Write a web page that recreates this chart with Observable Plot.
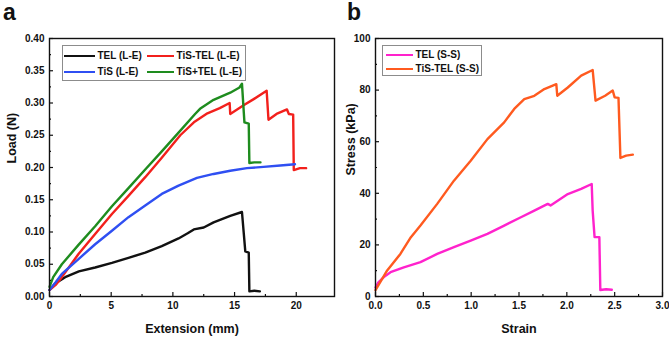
<!DOCTYPE html>
<html>
<head>
<meta charset="utf-8">
<script src="https://cdn.jsdelivr.net/npm/d3@7"></script>
<script src="https://cdn.jsdelivr.net/npm/@observablehq/plot@0.6"></script>
<style>
  html, body { margin: 0; padding: 0; background: #fff; }
  #wrap { position: relative; width: 669px; height: 338px; overflow: hidden; font-family: "Liberation Sans", Arial, sans-serif; font-weight: bold; color: #111; }
  .panel { position: absolute; top: 0; }
  .plabel { position: absolute; font-size: 23px; font-weight: bold; line-height: 1; }
  .legend { position: absolute; border: 1px solid #8c8c8c; background: #fff; box-sizing: border-box; }
  .sw { position: absolute; height: 2px; }
  .lt { position: absolute; font-size: 10px; line-height: 10px; white-space: nowrap; }
</style>
</head>
<body>
<div id="wrap"></div>
<script>
// ---------- Panel a: Load vs Extension ----------
const aNames = ["TEL (L-E)", "TiS-TEL (L-E)", "TiS (L-E)", "TiS+TEL (L-E)"];
const aColors = ["#111111", "#f2201c", "#2f4ff2", "#1e8c1e"];
const aXTicks = [0, 5, 10, 15, 20];
const aYTicks = [0, 0.05, 0.10, 0.15, 0.20, 0.25, 0.30, 0.35, 0.40];

const telLE = [[0,0.010],[0.46,0.020],[1.27,0.030],[2.38,0.039],[3.7,0.045],[5.06,0.052],[6.4,0.060],[7.76,0.068],[9.1,0.078],[10.46,0.090],[11.2,0.098],[11.7,0.104],[12.5,0.107],[13.3,0.115],[14.65,0.125],[15.6,0.131],[15.75,0.097],[15.87,0.070],[16.15,0.068],[16.2,0.008],[16.6,0.009],[17.05,0.008]];
const tisTelLE = [[0,0.010],[0.5,0.018],[1.0,0.030],[2.35,0.066],[3.7,0.097],[5.06,0.128],[6.4,0.156],[7.76,0.185],[9.1,0.215],[10.6,0.250],[11.7,0.270],[12.8,0.284],[13.8,0.292],[14.6,0.300],[14.65,0.283],[15.7,0.296],[16.55,0.306],[17.6,0.319],[17.75,0.274],[18.4,0.283],[19.25,0.290],[19.4,0.283],[19.75,0.282],[19.8,0.196],[20.3,0.199],[20.8,0.199]];
const tisLE = [[0,0.010],[0.5,0.022],[1.0,0.035],[2.35,0.058],[3.7,0.081],[5.06,0.102],[6.4,0.123],[7.76,0.141],[9.1,0.159],[10.46,0.172],[11.95,0.184],[13.3,0.190],[14.65,0.195],[16.0,0.199],[17.35,0.201],[18.7,0.203],[19.9,0.205]];
const tisPlusTelLE = [[0,0.015],[0.3,0.030],[1.0,0.050],[2.35,0.080],[3.7,0.109],[5.06,0.140],[6.4,0.168],[7.76,0.197],[9.1,0.225],[10.46,0.254],[11.8,0.283],[12.2,0.291],[13.3,0.305],[14.65,0.316],[15.4,0.324],[15.6,0.330],[15.8,0.270],[16.15,0.268],[16.2,0.207],[16.6,0.208],[17.1,0.208]];
const aSeries = [telLE, tisTelLE, tisLE, tisPlusTelLE];

// ---------- Panel b: Stress vs Strain ----------
const bNames = ["TEL (S-S)", "TiS-TEL (S-S)"];
const bColors = ["#ff22cc", "#ff5a1f"];
const bXTicks = [0, 0.5, 1.0, 1.5, 2.0, 2.5, 3.0];
const bYTicks = [0, 20, 40, 60, 80, 100];

const telSS = [[0,3.5],[0.03,5.5],[0.087,7.5],[0.157,9.4],[0.296,11.3],[0.47,13.3],[0.645,16.5],[0.82,19.1],[0.995,21.7],[1.17,24.3],[1.345,27.5],[1.52,30.7],[1.66,33.3],[1.8,35.9],[1.83,35.3],[2.01,39.7],[2.15,41.7],[2.26,43.6],[2.27,33.3],[2.29,23.0],[2.34,23.0],[2.35,2.5],[2.41,2.8],[2.47,2.6]];
const tisTelSS = [[0,2.5],[0.122,10.1],[0.26,16.5],[0.37,23.0],[0.47,27.5],[0.645,35.9],[0.82,44.9],[0.995,52.6],[1.17,61.0],[1.345,67.5],[1.45,72.7],[1.555,76.5],[1.66,77.8],[1.765,80.4],[1.89,82.3],[1.9,77.8],[2.01,81.0],[2.15,85.6],[2.27,87.8],[2.30,75.9],[2.40,77.8],[2.48,79.8],[2.50,77.2],[2.54,77.0],[2.56,53.7],[2.62,54.6],[2.69,55.0]];
const bSeries = [telSS, tisTelSS];

function minors(ticks) {
  const out = [];
  for (let i = 0; i < ticks.length - 1; i++) out.push((ticks[i] + ticks[i + 1]) / 2);
  return out;
}

function panel(cfg) {
  const data = cfg.series.flatMap((s, i) => s.map(([x, y]) => ({x, y, name: cfg.names[i]})));
  return Plot.plot({
    width: cfg.width, height: 338,
    marginTop: 38, marginBottom: 42, marginLeft: cfg.marginLeft, marginRight: cfg.marginRight,
    x: {domain: cfg.xDomain},
    y: {domain: cfg.yDomain},
    color: {domain: cfg.names, range: cfg.colors},
    style: {fontFamily: '"Liberation Sans", Arial, sans-serif', fontWeight: "bold", fontSize: "10px", color: "#111", background: "transparent", overflow: "visible"},
    marks: [
      Plot.line(data, {x: "x", y: "y", z: "name", stroke: "name", strokeWidth: 2.4}),
      Plot.frame({stroke: "#111", strokeWidth: 1.4}),
      Plot.axisX(cfg.xTicks, {tickSize: -4, tickPadding: 9.5, tickFormat: cfg.xFormat, label: null, fontSize: 10, fontWeight: "bold", strokeWidth: 1.2}),
      Plot.axisX(minors(cfg.xTicks), {tickSize: -2, text: null, label: null, strokeWidth: 1.2}),
      Plot.axisY(cfg.yTicks, {tickSize: -4, tickPadding: 9, tickFormat: cfg.yFormat, label: null, fontSize: 10, fontWeight: "bold", strokeWidth: 1.2}),
      Plot.axisY(minors(cfg.yTicks), {tickSize: -2, text: null, label: null, strokeWidth: 1.2}),
      Plot.text([cfg.xLabel], {frameAnchor: "bottom", dy: 32, lineAnchor: "middle", fontSize: 12.5, fontWeight: "bold"}),
      Plot.text([cfg.yLabel], {frameAnchor: "left", dx: cfg.yLabelDx, dy: cfg.yLabelDy, rotate: -90, lineAnchor: "middle", fontSize: 12.5, fontWeight: "bold"})
    ]
  });
}

const wrap = document.getElementById("wrap");

const pa = panel({
  series: aSeries, names: aNames, colors: aColors,
  width: 335, marginLeft: 49, marginRight: 1,
  xDomain: [0, 23.1], yDomain: [0, 0.40],
  xTicks: aXTicks, yTicks: aYTicks,
  xFormat: d3.format("d"), yFormat: d3.format(".2f"),
  xLabel: "Extension (mm)", yLabel: "Load (N)", yLabelDx: -37.5, yLabelDy: -4
});
pa.classList.add("panel"); pa.style.left = "0px";
wrap.appendChild(pa);

const pb = panel({
  series: bSeries, names: bNames, colors: bColors,
  width: 334, marginLeft: 40, marginRight: 7,
  xDomain: [0, 3.0], yDomain: [0, 100],
  xTicks: bXTicks, yTicks: bYTicks,
  xFormat: d3.format(".1f"), yFormat: d3.format("d"),
  xLabel: "Strain", yLabel: "Stress (kPa)", yLabelDx: -25, yLabelDy: 8
});
pb.classList.add("panel"); pb.style.left = "335px";
wrap.appendChild(pb);

// panel letters
function addLabel(txt, left, top) {
  const d = document.createElement("div");
  d.className = "plabel"; d.textContent = txt;
  d.style.left = left + "px"; d.style.top = top + "px";
  wrap.appendChild(d);
}
addLabel("a", 3, 1);
addLabel("b", 347, 1);

// legends
function addLegend(box, items) {
  const lg = document.createElement("div");
  lg.className = "legend";
  Object.assign(lg.style, {left: box.left + "px", top: box.top + "px", width: box.width + "px", height: box.height + "px"});
  wrap.appendChild(lg);
  items.forEach(it => {
    const sw = document.createElement("div");
    sw.className = "sw";
    Object.assign(sw.style, {left: it.x0 + "px", width: (it.x1 - it.x0) + "px", top: (it.y - 1) + "px", background: it.color});
    wrap.appendChild(sw);
    const t = document.createElement("div");
    t.className = "lt"; t.textContent = it.name;
    Object.assign(t.style, {left: it.tx + "px", top: (it.y - 5) + "px"});
    wrap.appendChild(t);
  });
}
addLegend({left: 61.5, top: 44.5, width: 184, height: 36}, [
  {name: aNames[0], color: aColors[0], x0: 63.5, x1: 94.5, tx: 97.5, y: 56},
  {name: aNames[1], color: aColors[1], x0: 146.5, x1: 173.5, tx: 176.5, y: 56},
  {name: aNames[2], color: aColors[2], x0: 63.5, x1: 94.5, tx: 97.5, y: 72},
  {name: aNames[3], color: aColors[3], x0: 146.5, x1: 173.5, tx: 176.5, y: 72}
]);
addLegend({left: 381.5, top: 45, width: 100, height: 30.5}, [
  {name: bNames[0], color: bColors[0], x0: 385.5, x1: 412.5, tx: 415.5, y: 55},
  {name: bNames[1], color: bColors[1], x0: 385.5, x1: 412.5, tx: 415.5, y: 68.5}
]);
</script>
</body>
</html>
